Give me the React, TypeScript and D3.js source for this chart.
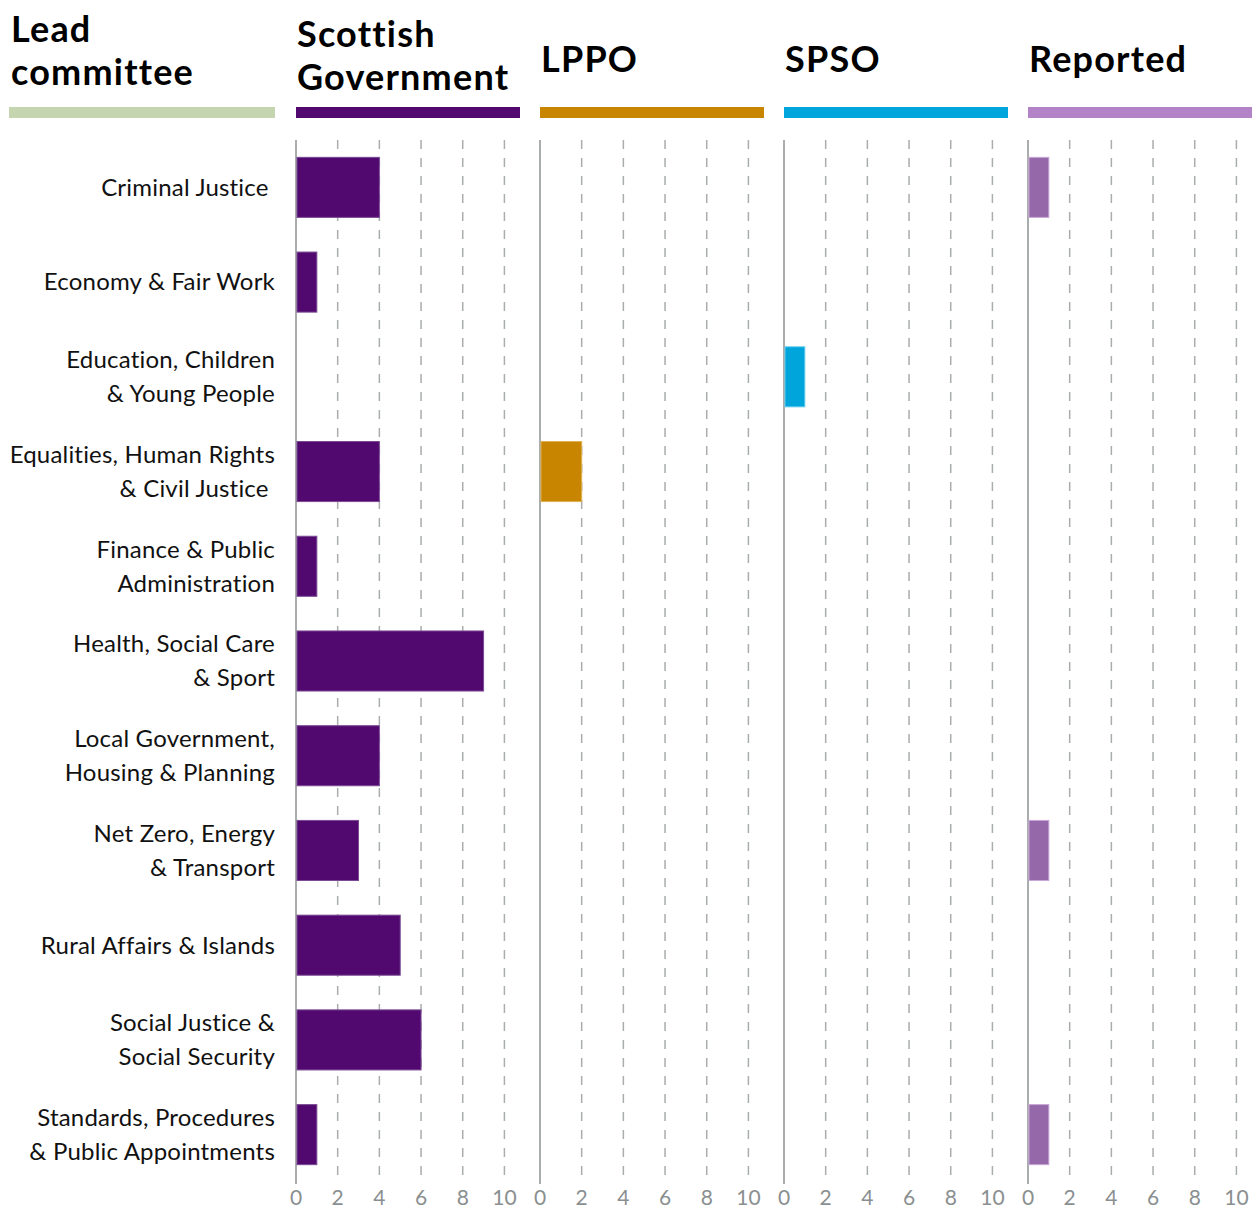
import React from 'react';
import * as d3 from 'd3';

const WIDTH = 1252;
const HEIGHT = 1209;

const categories = [
  ['Criminal Justice\u00a0'],
  ['Economy & Fair Work'],
  ['Education, Children', '& Young People'],
  ['Equalities, Human Rights', '& Civil Justice\u00a0'],
  ['Finance & Public', 'Administration'],
  ['Health, Social Care', '& Sport'],
  ['Local Government,', 'Housing & Planning'],
  ['Net Zero, Energy', '& Transport'],
  ['Rural Affairs & Islands'],
  ['Social Justice &', 'Social Security'],
  ['Standards, Procedures', '& Public Appointments'],
];

const scottishGov = [4, 1, 0, 4, 1, 9, 4, 3, 5, 6, 1];
const lppo = [0, 0, 0, 2, 0, 0, 0, 0, 0, 0, 0];
const spso = [0, 0, 1, 0, 0, 0, 0, 0, 0, 0, 0];
const reported = [1, 0, 0, 0, 0, 0, 0, 1, 0, 0, 1];

const ticks = [0, 2, 4, 6, 8, 10];

const panels = [
  { title: ['Scottish', 'Government'], values: scottishGov, head: '#52096f', bar: '#52096f', edge: '#7a4a93' },
  { title: ['LPPO'], values: lppo, head: '#c88500', bar: '#c88500', edge: '#e0b050' },
  { title: ['SPSO'], values: spso, head: '#00a5db', bar: '#00a5db', edge: '#66ccee' },
  { title: ['Reported'], values: reported, head: '#b383c7', bar: '#9569a9', edge: '#c9a6d8' },
];

const PANEL_X0 = 296;
const PANEL_STEP = 244;
const PANEL_W = 224;
const PLOT_TOP = 140;
const PLOT_BOTTOM = 1182;
const FONT = 'Lato, "Noto Sans", sans-serif';

const Title = ({ x, y, children }) => (
  <text x={x} y={y} fontSize={36} fontWeight="bold" letterSpacing={1.2} fill="#000">
    {children}
  </text>
);

const App = () => {
  const keys = categories.map((c) => c.join(' '));
  const y = d3
    .scaleBand()
    .domain(keys)
    .range([PLOT_TOP, PLOT_BOTTOM])
    .paddingInner(0.366)
    .paddingOuter(0.183);

  const x = d3.scaleLinear().domain([0, 10.7]).range([0, PANEL_W - 1]);

  return (
    <svg
      width={WIDTH}
      height={HEIGHT}
      style={{ position: 'absolute', left: 0, top: 0, background: '#fff' }}
      fontFamily={FONT}
    >
      {/* lead committee header */}
      <Title x={11} y={42}>Lead</Title>
      <Title x={11} y={85}>committee</Title>
      <rect x={9} y={107} width={266} height={11} fill="#c5d5b0" />

      {/* category labels */}
      {categories.map((lines, i) => {
        const cy = (y(keys[i]) as number) + y.bandwidth() / 2;
        const offsets = lines.length === 1 ? [0] : [-17, 17];
        return (
          <g key={keys[i]}>
            {lines.map((line, j) => (
              <text
                key={j}
                x={275}
                y={cy + offsets[j]}
                dy="0.35em"
                textAnchor="end"
                fontSize={24}
                letterSpacing={0.2}
                fill="#111"
              >
                {line}
              </text>
            ))}
          </g>
        );
      })}

      {panels.map((p, k) => {
        const x0 = PANEL_X0 + k * PANEL_STEP;
        return (
          <g key={k} transform={`translate(${x0},0)`}>
            {p.title.length === 2 ? (
              <>
                <Title x={1} y={47}>{p.title[0]}</Title>
                <Title x={1} y={90}>{p.title[1]}</Title>
              </>
            ) : (
              <Title x={1} y={72}>{p.title[0]}</Title>
            )}
            <rect x={0} y={107} width={PANEL_W} height={11} fill={p.head} />

            {ticks.map((t) => (
              <g key={t}>
                <line
                  x1={x(t)}
                  x2={x(t)}
                  y1={PLOT_TOP}
                  y2={PLOT_BOTTOM + 2}
                  stroke="#a9adad"
                  strokeWidth={t === 0 ? 2 : 1.5}
                  strokeDasharray={t === 0 ? undefined : '9 9'}
                />
                <text
                  x={x(t)}
                  y={1205}
                  textAnchor="middle"
                  fontSize={21}
                  fill="#8a8f90"
                >
                  {t}
                </text>
              </g>
            ))}

            {p.values.map((v, i) =>
              v > 0 ? (
                <rect
                  key={i}
                  x={x(0) + 1}
                  y={y(keys[i])}
                  width={x(v) - x(0) - 1}
                  height={y.bandwidth()}
                  fill={p.bar}
                  stroke={p.edge}
                  strokeWidth={1}
                />
              ) : null
            )}
          </g>
        );
      })}
    </svg>
  );
};

export default App;
